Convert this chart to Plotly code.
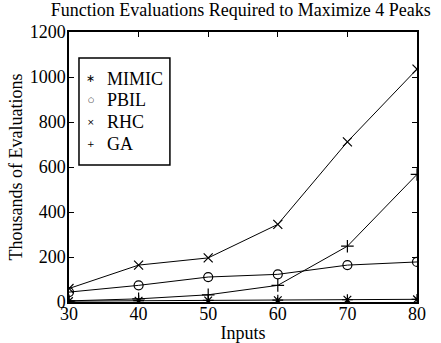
import plotly.graph_objects as go

inputs = [30, 40, 50, 60, 70, 80]
mimic = [4, 6, 7, 8, 10, 12]
pbil = [44, 74, 111, 123, 164, 178]
rhc = [60, 164, 196, 345, 712, 1035]
ga = [5, 14, 32, 74, 248, 567]

names = ["MIMIC", "PBIL", "RHC", "GA"]
symbols = ["asterisk-open", "circle-open", "x-thin-open", "cross-thin-open"]
legend_glyphs = ["\u2217", "\u25cb", "\u00d7", "+"]
values = [mimic, pbil, rhc, ga]

font = "Liberation Serif"
fig = go.Figure()
for name, vals, sym in zip(names, values, symbols):
    fig.add_trace(go.Scatter(
        x=inputs, y=vals, mode="lines+markers", name=name, showlegend=False,
        line=dict(color="black", width=1),
        marker=dict(symbol=sym, size=9, color="black", line=dict(color="black", width=1.2)),
    ))

# manual legend (box, glyphs, labels) in paper coordinates
fig.add_shape(type="rect", xref="paper", yref="paper",
              x0=0.0287, x1=0.290, y0=0.507, y1=0.904,
              line=dict(color="black", width=1.5), fillcolor="white", layer="above")
legend_y = [0.826, 0.748, 0.667, 0.585]
glyph_sizes = [11, 7, 9, 9]
for name, g, gs, ly in zip(names, legend_glyphs, glyph_sizes, legend_y):
    fig.add_annotation(xref="paper", yref="paper", x=0.0632, y=ly, text=g,
                       showarrow=False, xanchor="center", yanchor="middle",
                       font=dict(family="DejaVu Sans", size=gs, color="black"))
    fig.add_annotation(xref="paper", yref="paper", x=0.1034, y=ly, text=name,
                       showarrow=False, xanchor="left", yanchor="middle",
                       font=dict(family=font, size=18, color="black"))

fig.update_layout(
    width=441, height=343,
    margin=dict(l=69, r=24, t=32, b=41, autoexpand=False),
    paper_bgcolor="white", plot_bgcolor="white",
    font=dict(family=font, size=18, color="black"),
    title=dict(text="Function Evaluations Required to Maximize 4 Peaks",
               x=0.546, xanchor="center", y=0.973, yanchor="middle",
               font=dict(family=font, size=18), automargin=False),
    showlegend=False,
)
fig.update_xaxes(
    range=[30, 80], tickvals=[30, 40, 50, 60, 70, 80], automargin=False,
    ticks="inside", ticklen=5, tickcolor="black", mirror="ticks",
    showline=True, linecolor="black", linewidth=1.5, showgrid=False, zeroline=False,
    title=dict(text="Inputs", standoff=3, font=dict(family=font, size=18)),
    tickfont=dict(family=font, size=18), ticklabelstandoff=-5,
)
fig.update_yaxes(
    range=[0, 1200], tickvals=[0, 200, 400, 600, 800, 1000, 1200], automargin=False,
    ticks="inside", ticklen=5, tickcolor="black", mirror="ticks",
    showline=True, linecolor="black", linewidth=1.5, showgrid=False, zeroline=False,
    title=dict(text="Thousands of Evaluations", standoff=2, font=dict(family=font, size=18)),
    tickfont=dict(family=font, size=18), ticklabelstandoff=-2,
)
fig.write_html("out.html", post_script="document.body.style.margin='0px';",
               config={"displayModeBar": False})
